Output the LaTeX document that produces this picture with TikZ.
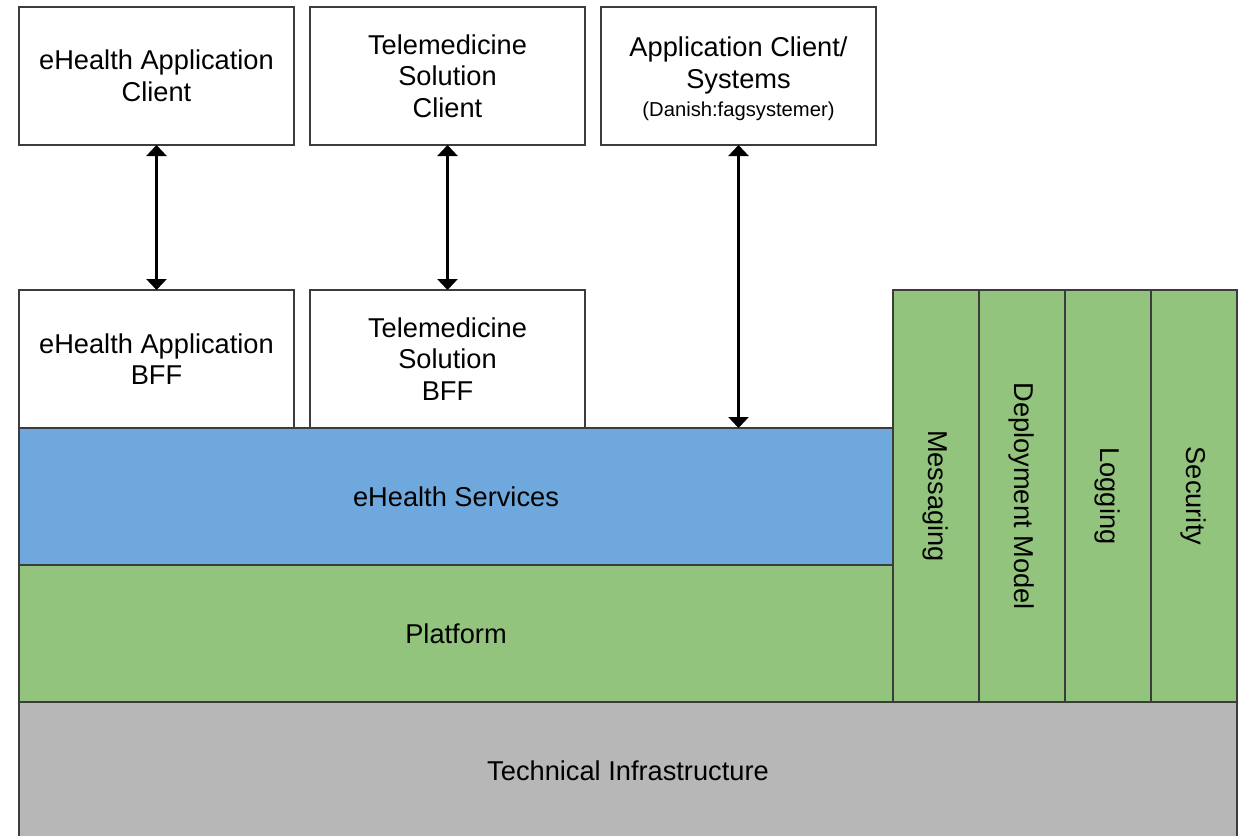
\documentclass[tikz,border=0pt]{standalone}
\usepackage{fontspec}
\setmainfont{Liberation Sans}
\usetikzlibrary{arrows.meta, positioning}

\definecolor{svcblue}{HTML}{6FA8DC}
\definecolor{platgreen}{HTML}{93C47D}
\definecolor{infragray}{HTML}{B7B7B7}
\definecolor{edgegray}{HTML}{3C3C3C}

\begin{document}
\begin{tikzpicture}[
    node distance=0.32cm and 0.32cm,
    every node/.style={font=\fontsize{15.5}{18}\selectfont, outer sep=0pt},
    client/.style={rectangle, draw=edgegray, line width=1.6pt, fill=white,
      minimum width=5.5cm, minimum height=2.76cm, align=center, inner sep=2pt},
    layer/.style={rectangle, draw=edgegray, line width=1.6pt,
      minimum height=2.74cm, align=center},
    pillar/.style={rectangle, draw=edgegray, line width=1.6pt, fill=platgreen,
      minimum width=1.72cm, minimum height=8.24cm, align=center, inner sep=0pt},
    link/.style={{Triangle[width=4mm,length=2.2mm]}-{Triangle[width=4mm,length=2.2mm]}, line width=1.5pt}
  ]
  \useasboundingbox (0,0) rectangle (24.8,-16.7);

  % clients on top
  \node[client] at (3.13,-1.52)       (ehclient)  {eHealth Application\\Client};
  \node[client, right=of ehclient]    (tmclient)  {Telemedicine\\Solution\\Client};
  \node[client, right=of tmclient]    (appclient) {};
  \node[align=center, yshift=-0.06cm] at (appclient) (apptext) {Application Client/\\Systems\\[-2pt]
    {\fontsize{11.5}{13}\selectfont (Danish:fagsystemer)}};

  % backends for frontends
  \node[client, below=2.9cm of ehclient] (ehbff) {eHealth Application\\BFF};
  \node[client, below=2.9cm of tmclient] (tmbff) {Telemedicine\\Solution\\BFF};

  % layered stack
  \node[layer, fill=svcblue, minimum width=17.48cm, anchor=north west]
    at (ehbff.south west) (svc) {eHealth Services};
  \node[layer, fill=platgreen, minimum width=17.48cm, below=0pt of svc] (plat) {Platform};
  \node[layer, fill=infragray, minimum width=24.36cm, anchor=north west]
    at (plat.south west) (infra) {Technical Infrastructure};

  % cross-cutting concerns
  \node[pillar, anchor=north west] at (svc.north east |- ehbff.north) (msg)
    {\rotatebox{-90}{Messaging}};
  \node[pillar, right=0pt of msg]    (deploy) {\rotatebox{-90}{Deployment Model}};
  \node[pillar, right=0pt of deploy] (logging) {\rotatebox{-90}{Logging}};
  \node[pillar, right=0pt of logging] (security) {\rotatebox{-90}{Security}};

  \draw[link] (ehclient) -- (ehbff);
  \draw[link] (tmclient) -- (tmbff);
  \draw[link] (appclient.south) -- (appclient.south |- svc.north);
\end{tikzpicture}
\end{document}
